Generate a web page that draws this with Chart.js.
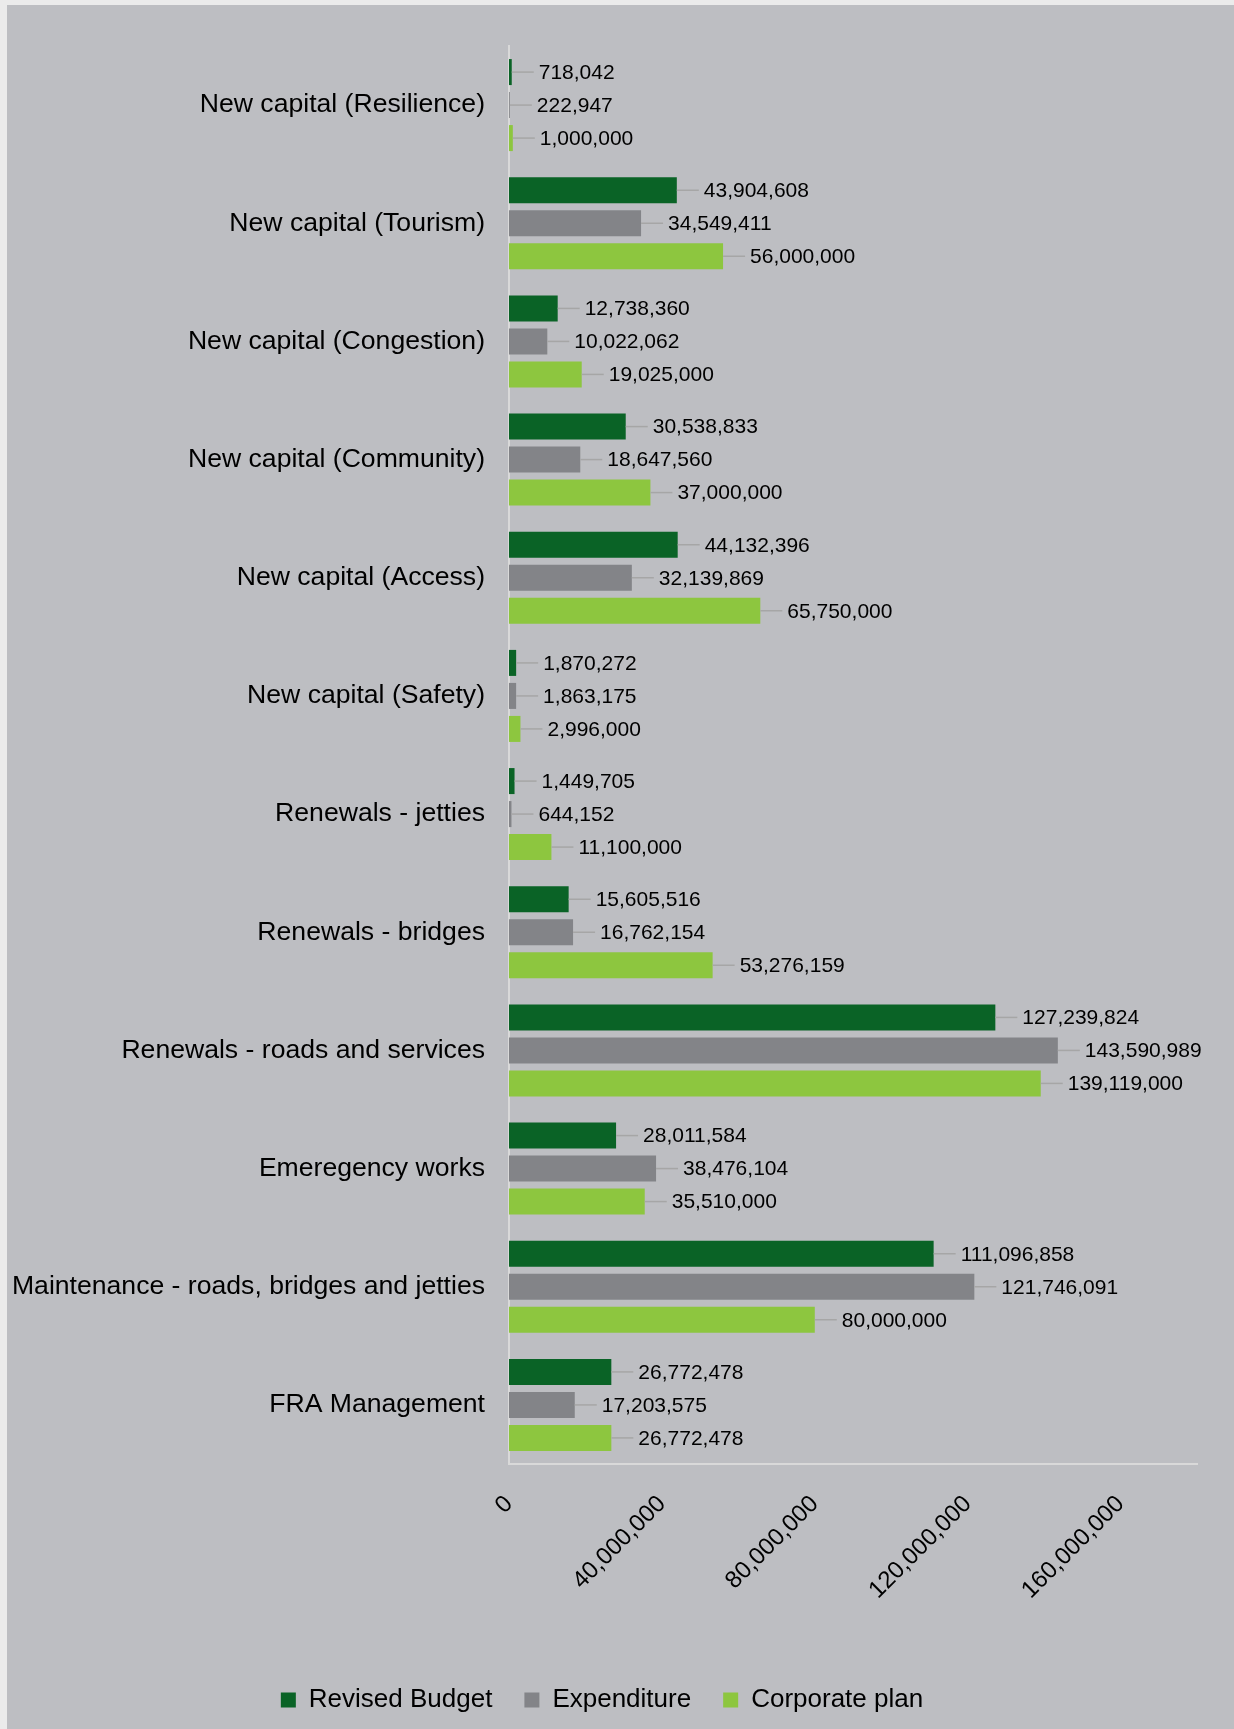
<!DOCTYPE html>
<html>
<head>
<meta charset="utf-8">
<script src="https://cdn.jsdelivr.net/npm/chart.js@4.4.1/dist/chart.umd.min.js"></script>
<style>
  html, body { margin: 0; padding: 0; background: #ebebeb; }
  #wrap {
    position: absolute; left: 7px; top: 5px;
    width: 1227px; height: 1724px;
    background: #bdbec2;
  }
</style>
</head>
<body>
<div id="wrap"><canvas id="chart"></canvas></div>
<script>
// Chart values
const categories = [
  'New capital (Resilience)',
  'New capital (Tourism)',
  'New capital (Congestion)',
  'New capital (Community)',
  'New capital (Access)',
  'New capital (Safety)',
  'Renewals - jetties',
  'Renewals - bridges',
  'Renewals - roads and services',
  'Emeregency works',
  'Maintenance - roads, bridges and jetties',
  'FRA Management'
];
const revisedBudget = [718042, 43904608, 12738360, 30538833, 44132396, 1870272, 1449705, 15605516, 127239824, 28011584, 111096858, 26772478];
const expenditure = [222947, 34549411, 10022062, 18647560, 32139869, 1863175, 644152, 16762154, 143590989, 38476104, 121746091, 17203575];
const corporatePlan = [1000000, 56000000, 19025000, 37000000, 65750000, 2996000, 11100000, 53276159, 139119000, 35510000, 80000000, 26772478];
const xTicks = [0, 40000000, 80000000, 120000000, 160000000];

const FONT = "'Liberation Sans', Arial, sans-serif";

// draws value labels with a short leader line, like the Excel original
const valueLabels = {
  id: 'valueLabels',
  afterDatasetsDraw(chart) {
    const ctx = chart.ctx;
    ctx.save();
    ctx.font = '21px ' + FONT;
    ctx.textBaseline = 'middle';
    ctx.textAlign = 'left';
    chart.data.datasets.forEach((ds, i) => {
      const meta = chart.getDatasetMeta(i);
      meta.data.forEach((bar, j) => {
        const x = bar.x;
        const y = bar.y;
        ctx.strokeStyle = '#a6a6a6';
        ctx.lineWidth = 1.5;
        ctx.beginPath();
        ctx.moveTo(x, y);
        ctx.lineTo(x + 22, y);
        ctx.stroke();
        ctx.fillStyle = '#000';
        ctx.fillText(ds.data[j].toLocaleString('en-US'), x + 27, y + 1);
      });
    });
    ctx.restore();
  }
};

const ctx = document.getElementById('chart').getContext('2d');
new Chart(ctx, {
  type: 'bar',
  data: {
    labels: categories,
    datasets: [
      { label: 'Revised Budget', data: revisedBudget, backgroundColor: '#0a6326' },
      { label: 'Expenditure', data: expenditure, backgroundColor: '#838488' },
      { label: 'Corporate plan', data: corporatePlan, backgroundColor: '#8dc63f' }
    ]
  },
  options: {
    indexAxis: 'y',
    responsive: true,
    maintainAspectRatio: false,
    animation: false,
    categoryPercentage: 0.838,
    barPercentage: 0.788,
    layout: { padding: { top: 41, right: 37, left: 0, bottom: 6 } },
    scales: {
      x: {
        min: 0,
        max: 180000000,
        grid: { display: false, drawTicks: false },
        border: { display: true, color: '#d9d9d9', width: 2 },
        afterBuildTicks: (scale) => {
          scale.ticks = xTicks.map((v) => ({ value: v }));
        },
        afterFit: (scale) => { scale.height = 191; },
        ticks: {
          minRotation: 45,
          maxRotation: 45,
          padding: 26,
          color: '#000',
          font: { family: FONT, size: 24 },
          callback: (v) => Number(v).toLocaleString('en-US')
        }
      },
      y: {
        grid: { display: false, drawTicks: false },
        border: { display: true, color: '#d9d9d9', width: 2 },
        afterFit: (scale) => { scale.width = 502; },
        ticks: {
          padding: 24,
          color: '#000',
          font: { family: FONT, size: 26.6 }
        }
      }
    },
    plugins: {
      legend: {
        position: 'bottom',
        labels: {
          boxWidth: 15,
          boxHeight: 15,
          padding: 32,
          color: '#000',
          font: { family: FONT, size: 26 }
        }
      },
      tooltip: { enabled: false }
    }
  },
  plugins: [valueLabels]
});
</script>
</body>
</html>
